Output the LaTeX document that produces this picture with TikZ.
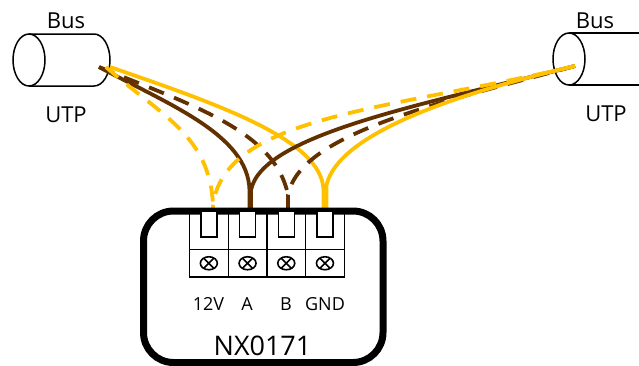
\documentclass[tikz,border=0pt]{standalone}
\usepackage{fontspec}
\setmainfont{Open Sans}
\usetikzlibrary{positioning,shapes.geometric}
\definecolor{wireyellow}{RGB}{255,192,0}
\definecolor{wirebrown}{RGB}{99,49,0}
\tikzset{
  cell/.style={draw,line width=1.4pt,minimum width=38.7pt,minimum height=38.5pt,inner sep=0,outer sep=0},
  screwcell/.style={cell,minimum height=27.5pt},
  pin/.style={draw,line width=1.4pt,fill=white,minimum width=16pt,minimum height=26pt,inner sep=0,outer sep=0},
  screwring/.style={draw,line width=1.6pt,ellipse,minimum width=17pt,minimum height=13pt,inner sep=0,outer sep=0},
  term/.style={font=\fontsize{18}{18}\selectfont},
  caption/.style={font=\fontsize{22}{22}\selectfont},
  ywire/.style={wireyellow,line width=3.8pt},
  bwire/.style={wirebrown,line width=3.8pt},
  dash wire/.style={dash pattern=on 16pt off 11pt},
}
\begin{document}
\begin{tikzpicture}[x=1pt,y=-1pt]
  \useasboundingbox (0,0) rectangle (639,365);
  % left cable
  \draw[line width=1.5pt] (29,34) -- (94,34) arc (-90:90:16 and 26) -- (29,86);
  \draw[line width=1.5pt] (29,60) ellipse (16 and 26);
  % right cable
  \draw[line width=1.5pt] (569,33) -- (645,33);
  \draw[line width=1.5pt] (569,85) -- (645,85);
  \draw[line width=1.5pt] (569,59) ellipse (16 and 26);
  \node[caption] (busleft) at (66,21) {Bus};
  \node[caption] (utpleft) at (66,115) {UTP};
  \node[caption] (busright) at (595,21) {Bus};
  \node[caption] (utpright) at (606,114) {UTP};
  % wires
  \coordinate (wlb) at (99,67);
  \coordinate (wly) at (106,67);
  \coordinate (wlo) at (110,67);
  \coordinate (wr) at (575,66);
  \coordinate (t0) at (213,211);
  \coordinate (t1l) at (249.5,211);
  \coordinate (t1r) at (251,211);
  \coordinate (t2) at (288,211);
  \coordinate (t3l) at (323.5,211);
  \coordinate (t3r) at (326.5,211);
  \draw[bwire,dash wire] (wlb) .. controls (190,105) and (275,130) .. (288,195) -- (t2);
  \draw[bwire] (wlb) .. controls (170,105) and (248,135) .. (249.5,190) -- (t1l);
  \draw[ywire,dash wire] (wly) .. controls (160,115) and (210,135) .. (213,205) -- (t0);
  \draw[ywire] (wlo) .. controls (220,105) and (322,140) .. (323.5,190) -- (t3l);
  \draw[bwire,dash wire] (wr) .. controls (430,105) and (300,135) .. (288,195) -- (t2);
  \draw[bwire] (wr) .. controls (420,105) and (262,135) .. (251,190) -- (t1r);
  \draw[ywire,dash wire] (wr) .. controls (390,110) and (225,115) .. (213,205) -- (t0);
  \draw[ywire] (wr) .. controls (450,95) and (338,135) .. (326.5,185) -- (t3r);
  % module
  \draw[line width=7pt,rounded corners=30pt] (143.5,211) rectangle (383,362.5);
  % terminal block
  \node[cell,anchor=north west] (c0) at (189.5,211) {};
  \node[cell,right=0pt of c0] (c1) {};
  \node[cell,right=0pt of c1] (c2) {};
  \node[cell,right=0pt of c2] (c3) {};
  \node[screwcell,below=0pt of c0] (s0) {};
  \node[screwcell,below=0pt of c1] (s1) {};
  \node[screwcell,below=0pt of c2] (s2) {};
  \node[screwcell,below=0pt of c3] (s3) {};
  \foreach \i in {0,1,2,3} {
    \node[pin,anchor=north] (p\i) at (c\i.north) {};
    \node[screwring] (r\i) at (s\i) {};
    \draw[line width=1.6pt] (r\i.45) -- (r\i.225) (r\i.135) -- (r\i.315);
  }
  \node[term] (l0) at (208.5,304) {12V};
  \node[term] (l1) at (247,304) {A};
  \node[term] (l2) at (286,304) {B};
  \node[term] (l3) at (325,304) {GND};
  \node[font=\fontsize{27}{27}\selectfont] (name) at (262.5,346) {NX0171};
\end{tikzpicture}
\end{document}
